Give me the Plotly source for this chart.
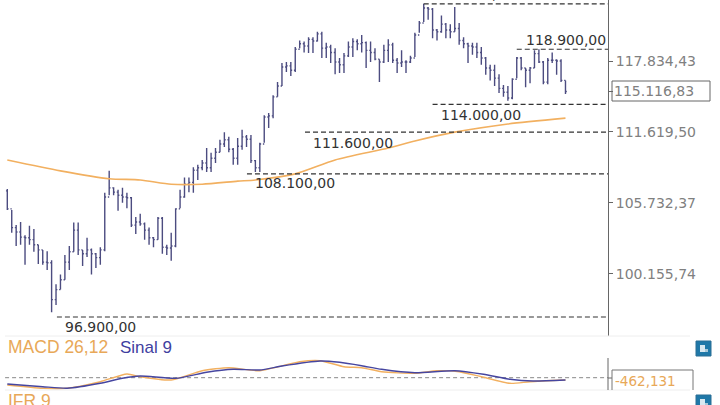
import math
import plotly.graph_objects as go

# price bars, thousands
highs = [106.85,105.15,103.95,104.2,103.15,103.9,103.65,102.4,102.0,101.9,
 101.2,99.35,100.1,101.6,102.3,104.15,104.15,102.0,102.95,102.1,
 101.75,102.2,106.55,108.35,107.0,106.8,106.95,106.55,106.2,104.6,
 104.85,104.15,103.75,103.0,104.6,104.6,102.4,103.35,105.3,106.8,
 107.8,107.8,108.65,108.85,109.25,110.25,109.85,110.25,110.95,111.6,
 111.2,110.25,111.1,111.8,111.35,111.35,109.25,110.7,113.05,113.25,
 114.8,115.95,117.65,117.75,117.75,119.1,119.7,119.6,120.0,120.0,
 120.5,120.5,119.5,119.3,119.0,118.1,118.55,119.6,119.9,119.8,
 120.2,119.6,119.6,119.0,118.0,119.3,119.8,119.5,118.1,118.8,
 117.9,118.3,120.4,121.5,123.1,122.8,122.7,120.75,122.0,121.3,
 121.2,122.8,121.3,120.0,119.5,119.5,119.5,119.1,118.2,117.5,
 117.5,116.65,115.7,115.6,116.3,118.2,118.2,117.2,117.3,118.8,
 118.9,117.83,118.1,118.6,118.0,118.0,116.1]
lows = [105.15,103.35,102.3,102.4,100.85,102.4,101.85,100.9,100.85,100.45,
 97.25,97.8,98.95,99.7,100.45,101.85,101.6,100.75,101.45,100.1,
 100.6,100.85,101.9,106.35,106.35,105.1,105.75,105.3,103.8,103.25,
 103.9,102.8,102.4,102.2,102.8,101.7,101.6,101.15,102.2,105.3,
 106.15,106.6,106.55,107.6,108.4,108.25,108.25,109.0,109.9,110.35,
 109.9,108.85,108.85,110.1,110.35,109.0,108.25,108.25,110.7,111.95,
 112.8,114.65,115.6,116.85,116.5,116.85,119.0,118.6,118.55,118.55,
 119.6,118.1,118.1,117.65,116.65,116.75,116.75,118.2,118.2,118.8,
 118.6,117.2,117.75,117.9,115.95,117.65,117.75,117.65,116.75,117.3,
 116.75,117.65,118.2,120.4,121.4,121.6,119.9,119.7,120.4,119.9,
 119.9,120.5,119.3,119.0,117.65,118.4,118.1,117.5,116.6,116.1,
 115.6,115.0,114.65,114.3,114.45,116.3,117.0,115.5,115.85,117.2,
 117.65,115.75,115.75,117.65,116.6,115.95,114.9]
closes = [105.25,103.75,103.4,103.0,102.95,102.8,102.4,102.0,101.05,101.0,
 98.2,98.95,99.7,101.05,101.85,103.55,102.0,101.7,102.0,101.7,
 101.4,102.0,106.2,106.95,106.6,106.35,106.2,106.15,103.95,104.2,
 104.05,103.55,102.95,102.8,104.5,102.2,102.15,102.3,105.25,106.2,
 107.25,107.4,108.4,108.6,109.0,108.6,109.4,109.9,110.6,110.95,
 110.15,109.4,110.4,111.2,111.0,109.2,108.6,110.6,112.9,113.0,
 114.65,115.6,117.3,117.4,117.0,118.9,119.4,119.2,119.8,119.65,
 120.3,119.0,119.1,118.6,117.75,117.5,118.3,119.1,119.6,119.4,
 119.5,118.8,118.6,118.0,117.75,118.8,119.3,117.9,117.65,117.75,
 117.75,118.1,120.2,121.3,122.7,122.6,120.66,120.5,121.2,120.66,
 120.5,120.8,119.7,119.4,119.2,119.1,118.6,118.1,117.2,117.0,
 116.3,115.4,115.05,114.55,116.2,118.1,117.2,117.0,117.2,118.5,
 117.75,115.95,117.9,117.9,117.83,116.1,115.12]
first_open = 106.7

# moving average, sampled at bar positions
ma_idx = [0,12,23,30,37,44,52,56,65,74,86,92,101,113,126]
ma_val = [109.25,108.35,107.7,107.6,107.25,107.25,107.5,107.6,108.1,109.25,110.25,110.85,111.6,112.3,112.8]

# horizontal levels
level_vals = [123100,118900,114000,111600,108100,96900]
level_start = [94,115,96,67.2,54.1,11.2]
level_text = ["123.100,00","118.900,00","114.000,00","111.600,00","108.100,00","96.900,00"]
label_x = [95.9,116.6,97.5,68.5,55.5,12.5]
label_shift = [0,-1,1,1,3,2]

y_ticks = [117834.43,115116.83,111619.50,105732.37,100155.74]
y_text = ["117.834,43","","111.619,50","105.732,37","100.155,74"]

signal_idx = [0,8,13.5,21,26,30,38,45,51,57,62,70.6,75,80,84.5,92,101,107.5,113.5,118.7,126]
signal_val = [-1260,-1800,-2120,-1120,-120,340,-120,1080,1680,1540,2340,3340,3080,2400,1680,1000,1400,680,-320,-660,-462]
macd_idx = [0,8,13.5,21,27,30,37,44,50,57,66,70.6,76,80,84.5,92,97,102,107,113.5,118,126]
macd_val = [-1460,-2120,-2120,-800,740,200,-460,1400,2000,1400,3200,3400,2200,2000,1200,880,1400,1200,200,-1120,-800,-462]

W, H = 720, 405
AX_X = 608
def px(v): return v / W
def py(v): return 1 - v / H

X0, DX = 7.3, 4.43
x_range = [(0 - X0) / DX, (AX_X - X0) / DX]
x = list(range(len(closes)))
opens = [first_open] + closes[:-1]
k = lambda a: [v * 1000 for v in a]

PRICE_TOP, PRICE_BOT = 123457, 95505
ORANGE = "#f2b060"
TXT = "#333333"
GREY = "#808080"

fig = go.Figure()
fig.add_trace(go.Ohlc(x=x, open=k(opens), high=k(highs), low=k(lows), close=k(closes),
    increasing=dict(line=dict(color="#4c4c80", width=1.4)),
    decreasing=dict(line=dict(color="#4c4c80", width=1.4)),
    tickwidth=0.3, hoverinfo="skip", showlegend=False, xaxis="x", yaxis="y"))
fig.add_trace(go.Scatter(x=ma_idx, y=k(ma_val), mode="lines", line=dict(color=ORANGE, width=1.6, shape="spline", smoothing=0.7),
    showlegend=False, xaxis="x", yaxis="y"))
for v, s in zip(level_vals, level_start):
    fig.add_trace(go.Scatter(x=[s, x_range[1]], y=[v, v], mode="lines",
        line=dict(color="#333333", width=1.2, dash="5px,3px"), showlegend=False, xaxis="x", yaxis="y"))

fig.add_trace(go.Scatter(x=[-0.5, x_range[1]], y=[0, 0], mode="lines",
    line=dict(color="#888888", width=1, dash="4px,3px"), showlegend=False, xaxis="x2", yaxis="y2"))
fig.add_trace(go.Scatter(x=macd_idx, y=macd_val, mode="lines", line=dict(color=ORANGE, width=1.4, shape="spline", smoothing=0.6),
    showlegend=False, xaxis="x2", yaxis="y2"))
fig.add_trace(go.Scatter(x=signal_idx, y=signal_val, mode="lines", line=dict(color="#4646a0", width=1.4, shape="spline", smoothing=0.6),
    showlegend=False, xaxis="x2", yaxis="y2"))

ann = []
for v, t, lx, sh in zip(level_vals, level_text, label_x, label_shift):
    above = v in (123100, 118900)
    ann.append(dict(x=lx, y=math.log10(v), xref="x", yref="y", text=t, showarrow=False, xanchor="left",
        yanchor="bottom" if above else "top", yshift=sh if above else sh - 2,
        font=dict(family="DejaVu Sans", size=14, color=TXT)))
def label(x_, y_, t, c, size=17, fam="Liberation Sans"):
    ann.append(dict(x=px(x_), y=py(y_), xref="paper", yref="paper", text=t, showarrow=False, xanchor="left",
        yanchor="middle", font=dict(family=fam, size=size, color=c)))
label(6, 347, "MACD 26,12", "#e8a858", 17.5)
label(118, 347, "Sinal 9", "#3f3f9f", 17)
label(6, 401, "IFR 9", "#e8a858", 17.5)
label(613, 381, "-462,131", "#e8a858", 13.5, "DejaVu Sans")
label(612, 91, "115.116,83", GREY, 14, "DejaVu Sans")

shapes = [
    dict(type="line", xref="paper", yref="paper", x0=px(5), x1=px(690), y0=py(336), y1=py(336), line=dict(color="#eeeeee", width=1)),
    dict(type="line", xref="paper", yref="paper", x0=px(5), x1=px(690), y0=py(390), y1=py(390), line=dict(color="#eeeeee", width=1)),
    dict(type="line", xref="paper", yref="paper", x0=px(AX_X), x1=px(AX_X), y0=py(358), y1=py(390), line=dict(color="#666666", width=1)),
    dict(type="line", xref="paper", yref="paper", x0=px(AX_X), x1=px(612), y0=py(378), y1=py(378), line=dict(color="#666666", width=1)),
    dict(type="rect", xref="paper", yref="paper", x0=px(612), x1=px(710), y0=py(81), y1=py(101), line=dict(color="#666666", width=1)),
    dict(type="path", xref="paper", yref="paper",
         path=f"M {px(612)} {py(390)} L {px(612)} {py(370)} L {px(693)} {py(370)} L {px(693)} {py(390)}",
         line=dict(color="#777777", width=1)),
]
for top in (341, 395):
    shapes.append(dict(type="rect", xref="paper", yref="paper", x0=px(696), x1=px(711), y0=py(top), y1=py(top + 15),
        fillcolor="#1f78a8", line=dict(color="#2a6f95", width=1)))
    shapes.append(dict(type="rect", xref="paper", yref="paper", x0=px(700), x1=px(705), y0=py(top + 4), y1=py(top + 11),
        fillcolor="#d8e8f0", line=dict(width=0)))
    shapes.append(dict(type="rect", xref="paper", yref="paper", x0=px(705), x1=px(708), y0=py(top + 8), y1=py(top + 11),
        fillcolor="#a8c8d8", line=dict(width=0)))

fig.update_layout(
    width=W, height=H, margin=dict(l=0, r=0, t=0, b=0), paper_bgcolor="white", plot_bgcolor="white",
    showlegend=False, annotations=ann, shapes=shapes,
    xaxis=dict(domain=[0, px(AX_X)], range=x_range, visible=False, rangeslider=dict(visible=False), fixedrange=True),
    xaxis2=dict(domain=[0, px(AX_X)], range=x_range, visible=False, anchor="y2", fixedrange=True),
    yaxis=dict(domain=[py(336), 1], type="log", range=[math.log10(PRICE_BOT), math.log10(PRICE_TOP)], side="right",
        tickmode="array", tickvals=y_ticks, ticktext=y_text, ticks="outside", ticklen=4, tickcolor="#666666",
        showgrid=False, zeroline=False, showline=True, linecolor="#666666", linewidth=1,
        tickfont=dict(family="DejaVu Sans", size=14, color=GREY), anchor="x"),
    yaxis2=dict(domain=[py(390), py(337)], range=[-2460, 8140], visible=False, anchor="x2", fixedrange=True),
)
fig.write_html("out.html", post_script="document.body.style.margin='0';", config=dict(displayModeBar=False))
